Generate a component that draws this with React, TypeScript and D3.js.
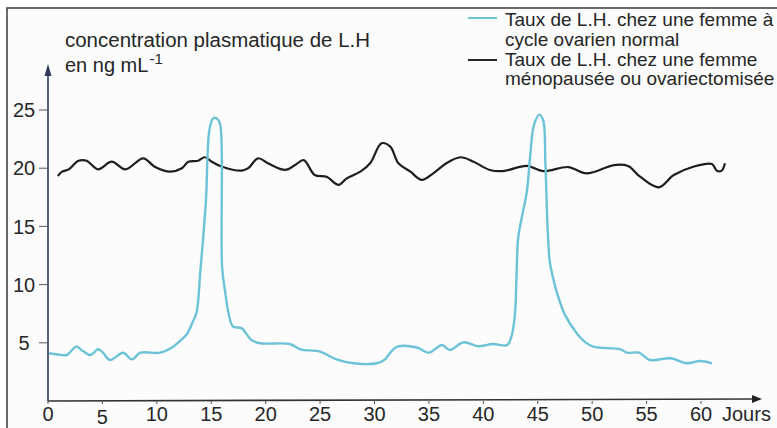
import React from "react";
import * as d3 from "d3";

// LH plasma concentration (ng/mL) over days
const xTicks = [0, 5, 10, 15, 20, 25, 30, 35, 40, 45, 50, 55, 60];
const yTicks = [5, 10, 15, 20, 25];

// normal ovarian cycle (cyan)
const normalDays = [
  0.1, 0.9, 1.7, 2.6, 3.2, 3.9, 4.6, 5.0, 5.7, 6.9, 7.7, 8.5, 10.3, 11.5, 12.3, 12.8,
  13.3, 13.65, 14.0, 14.5, 14.85, 15.2, 15.6, 15.85, 16.0, 16.3, 16.6, 17.0, 17.8,
  18.7, 19.5, 22.2, 23.2, 25.0, 26.5, 28.1, 30.2, 31.0, 31.4, 32.1, 33.9, 35.0, 36.2,
  36.9, 38.2, 39.5, 40.9, 42.2, 42.6, 42.9, 43.2, 43.5, 44.0, 44.3, 44.65, 45.15,
  45.5, 45.7, 45.9, 46.1, 46.4, 46.8, 47.5, 48.6, 49.3, 50.1, 52.6, 53.2, 54.3, 55.3,
  57.2, 58.7, 59.9, 61.0,
];
const normalLH = [
  4.1, 4.0, 3.95, 4.67, 4.3, 3.95, 4.44, 4.2, 3.52, 4.15, 3.58, 4.15, 4.15, 4.67, 5.3, 5.8,
  6.8, 7.6, 11.2, 17.0, 23.4, 24.3, 24.2, 23.6, 11.5, 9.25, 7.5, 6.4, 6.24,
  5.24, 4.96, 4.9, 4.44, 4.24, 3.58, 3.24, 3.24, 3.6, 4.1, 4.67, 4.6, 4.15, 4.81,
  4.38, 5.05, 4.7, 4.9, 4.81, 5.6, 7.4, 14.0, 15.6, 18.0, 21.0, 23.7, 24.6,
  24.1, 20.5, 15.0, 12.0, 10.6, 9.2, 7.4, 5.8, 5.1, 4.67, 4.44, 4.15, 4.15, 3.52,
  3.67, 3.24, 3.44, 3.24,
];

// menopause / ovariectomy (black)
const menoDays = [
  0.9, 1.3, 1.9, 2.8, 3.55, 4.6, 5.85, 7.1, 8.75, 9.8, 11.2, 12.3, 12.9, 13.8, 14.4,
  15.05, 16.0, 17.8, 18.4, 19.3, 20.25, 21.8, 22.7, 23.5, 24.5, 25.6, 26.7, 27.45,
  28.7, 29.6, 30.65, 31.45, 32.2, 33.3, 34.35, 35.4, 36.6, 37.9, 39.1, 40.6, 41.8,
  44.0, 45.5, 47.8, 49.5, 52.0, 53.3, 54.4, 56.1, 57.5, 59.3, 61.0, 61.45, 61.9, 62.2,
];
const menoLH = [
  19.33, 19.7, 19.9, 20.64, 20.64, 19.9, 20.56, 19.9, 20.85, 20.13, 19.7, 19.99, 20.56,
  20.64, 20.94, 20.56, 20.13, 19.79, 20.0, 20.85, 20.4, 19.85, 20.27, 20.7, 19.42, 19.27,
  18.56, 19.13, 19.7, 20.42, 22.14, 21.85, 20.42, 19.7, 18.99, 19.56, 20.42, 20.94, 20.56,
  19.85, 19.75, 20.2, 19.75, 20.1, 19.56, 20.27, 20.19, 19.27, 18.36, 19.42, 20.13, 20.36,
  19.79, 19.79, 20.42,
];

const font = "'Liberation Sans', Arial, sans-serif";
const ink = "#262626";

export default function App() {
  const x = d3.scaleLinear().domain([0, 60]).range([48, 701]);
  const y = d3.scaleLinear().domain([0, 25]).range([401, 110]);

  const line = d3
    .line<[number, number]>()
    .x((d) => x(d[0]))
    .y((d) => y(d[1]))
    .curve(d3.curveCatmullRom.alpha(0.5));

  const normalPath = line(normalDays.map((d, i) => [d, normalLH[i]]) as [number, number][]);
  const menoPath = line(menoDays.map((d, i) => [d, menoLH[i]]) as [number, number][]);

  const x0 = x(0);
  const y0 = y(0);

  return (
    <>
      <style>{`body{margin:0}`}</style>
      <svg width={777} height={428} style={{ display: "block", background: "#fff" }} fontFamily={font}>
        {/* frame */}
        <rect x={7} y={8} width={780} height={430} fill="#fcfcfd" />
        <path d="M7,428V8H777" fill="none" stroke="#3a3a3a" strokeWidth={1.5} />

        {/* title */}
        <text x={65} y={47} fontSize={20} fill={ink} textLength={305} lengthAdjust="spacingAndGlyphs">
          concentration plasmatique de L.H
        </text>
        <text x={65} y={72} fontSize={20} fill={ink}>
          en ng mL
          <tspan fontSize={15} dy={-8} dx={1}>-1</tspan>
        </text>

        {/* legend */}
        <line x1={468} x2={497} y1={18} y2={18} stroke="#6cc3d7" strokeWidth={2} />
        <line x1={468} x2={497} y1={60} y2={60} stroke={ink} strokeWidth={2} />
        <g fontSize={19} fill={ink}>
          <text x={505} y={26}>Taux de L.H. chez une femme à</text>
          <text x={505} y={46}>cycle ovarien normal</text>
          <text x={505} y={66}>Taux de L.H. chez une femme</text>
          <text x={505} y={85}>ménopausée ou ovariectomisée</text>
        </g>

        {/* y axis */}
        <line x1={x0} x2={x0} y1={y0} y2={70} stroke="#2c3b58" strokeWidth={1.6} />
        <path d={`M${x0 - 3.5},${76}L${x0},${64}L${x0 + 3.5},${76}Z`} fill="#2c3b58" />
        {yTicks.map((t) => (
          <g key={t}>
            <line x1={x0 - 9} x2={x0} y1={y(t)} y2={y(t)} stroke="#555" strokeWidth={1} />
            <text x={24} y={y(t)} dy="0.36em" textAnchor="middle" fontSize={20} fill={ink}>
              {t}
            </text>
          </g>
        ))}

        {/* x axis */}
        <line x1={x0} x2={754} y1={y0} y2={y0 - 2} stroke="#333" strokeWidth={1.6} />
        <path d={`M752,${y0 - 6}L762,${y0 - 2}L752,${y0 + 2}Z`} fill="#222" />
        {xTicks.map((t) => (
          <g key={t}>
            <line x1={x(t)} x2={x(t)} y1={y0} y2={y0 + 3} stroke="#555" strokeWidth={1} />
            <text x={x(t)} y={t === 5 ? 423.5 : 421} textAnchor="middle" fontSize={20} fill={ink}>
              {t}
            </text>
          </g>
        ))}
        <text x={722} y={421} fontSize={20} fill={ink}>
          Jours
        </text>

        {/* curves */}
        <path d={menoPath ?? ""} fill="none" stroke="#1e1e1e" strokeWidth={2.2} strokeLinejoin="round" />
        <path d={normalPath ?? ""} fill="none" stroke="#6cc3d7" strokeWidth={2.4} strokeLinejoin="round" />
      </svg>
    </>
  );
}
